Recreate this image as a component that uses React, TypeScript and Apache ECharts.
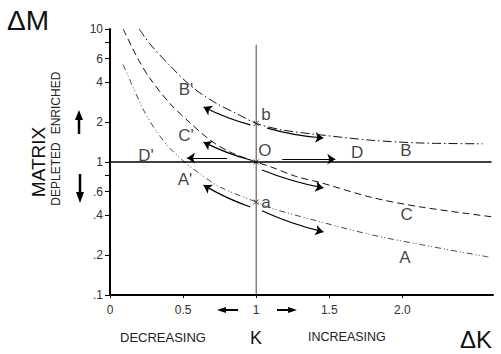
import React, { useEffect, useRef } from 'react';
import * as echarts from 'echarts';

const FONT = '"Liberation Sans", Arial, sans-serif';

// Axis ticks and their printed labels
const xTickValues = [0, 0.5, 1, 1.5, 2];
const xTickLabels = ['0', '0.5', '1', '1.5', '2.0'];
const yTickValues = [0.1, 0.2, 0.4, 0.6, 0.8, 1, 2, 4, 6, 8, 10];
const yLabelValues = [0.1, 0.2, 0.4, 0.6, 1, 2, 4, 6, 10];
const yTickLabels = ['.1', '.2', '.4', '.6', '1', '2', '4', '6', '10'];

// Curve B (dash-dot), through b
const curveBK = [0.2, 0.27, 0.41, 0.57, 0.73, 0.87, 1.0, 1.18, 1.44, 1.78, 2.12, 2.55];
const curveBM = [10, 7.8, 5.3, 3.6, 2.75, 2.3, 1.95, 1.74, 1.6, 1.46, 1.39, 1.37];

// Curve C (dashed), through O
const curveCK = [0.09, 0.19, 0.27, 0.41, 0.55, 0.685, 0.82, 1.0, 1.1, 1.27, 1.44, 1.78, 2.12, 2.67];
const curveCM = [10, 6.0, 4.3, 2.75, 1.96, 1.46, 1.19, 1.0, 0.92, 0.78, 0.7, 0.545, 0.46, 0.38];

// Curve A (dash-dot-dot), through a
const curveAK = [0.09, 0.23, 0.31, 0.4, 0.51, 0.6, 0.75, 1.0, 1.1, 1.44, 1.78, 2.12, 2.59];
const curveAM = [5.4, 2.45, 1.75, 1.3, 1.0, 0.84, 0.65, 0.5, 0.45, 0.355, 0.285, 0.24, 0.193];

// Vertical line K = 1 and horizontal line D (M = 1)
const refLineK = [1, 1];
const refLineM = [0.1, 7.6];
const unitLineK = [0, 2.61];
const unitLineM = [1, 1];

// Direction arrows beside each curve
const arrowFromK = [0.96, 1.075, 0.96, 1.04, 0.8, 1.178, 0.96, 1.04];
const arrowFromM = [1.9, 1.8, 1.035, 0.87, 1.07, 1.05, 0.459, 0.43];
const arrowToK = [0.64, 1.46, 0.64, 1.46, 0.527, 1.541, 0.64, 1.46];
const arrowToM = [2.59, 1.515, 1.41, 0.638, 1.07, 1.05, 0.67, 0.298];
const arrowBend = [0.05, -0.05, 0.05, -0.05, 0, 0, 0.05, -0.05];

// Crossing points b, O, a on K = 1
const pointK = [1, 1, 1];
const pointM = [1.95, 1.0, 0.5];

// Curve and point names
const labelNames = ["B'", "C'", "D'", "A'", 'b', 'O', 'a', 'D', 'B', 'C', 'A'];
const labelK = [0.52, 0.52, 0.246, 0.513, 1.067, 1.06, 1.067, 1.69, 2.025, 2.03, 2.018];
const labelM = [3.48, 1.57, 1.11, 0.745, 2.26, 1.21, 0.492, 1.17, 1.23, 0.406, 0.193];

const zip = (a: number[], b: number[]) => a.map((v, i) => [v, b[i]]);

function arrowSeries(bend: number) {
  const data = arrowFromK
    .map((_, i) => i)
    .filter((i) => arrowBend[i] === bend)
    .map((i) => ({
      coords: [
        [arrowFromK[i], arrowFromM[i]],
        [arrowToK[i], arrowToM[i]],
      ],
    }));
  return {
    type: 'lines',
    coordinateSystem: 'cartesian2d',
    symbol: ['none', 'arrow'],
    symbolSize: 8,
    lineStyle: { color: '#000', width: 1.2, curveness: bend, opacity: 1 },
    silent: true,
    data,
  };
}

function curveSeries(k: number[], m: number[], dash: number[], width: number, color: string) {
  return {
    type: 'line',
    data: zip(k, m),
    showSymbol: false,
    smooth: 0.3,
    clip: false,
    lineStyle: { color, width, type: dash },
    silent: true,
  };
}

export default function App() {
  const ref = useRef<HTMLDivElement>(null);

  useEffect(() => {
    if (!ref.current) return;
    const chart = echarts.init(ref.current, undefined, { renderer: 'svg' });
    const option = {
      animation: false,
      backgroundColor: '#fff',
      grid: { left: 110, top: 29, width: 383, height: 266 },
      xAxis: {
        type: 'value',
        min: 0,
        max: 2.62,
        splitLine: { show: false },
        axisLine: { show: true, lineStyle: { color: '#000', width: 2 } },
        axisTick: { show: true, customValues: xTickValues, length: 3, lineStyle: { color: '#000', width: 1 } },
        axisLabel: {
          customValues: xTickValues,
          formatter: (v: number) => xTickLabels[xTickValues.indexOf(v)] ?? '',
          color: '#333',
          fontFamily: FONT,
          fontSize: 12,
          margin: 9,
        },
      },
      yAxis: {
        type: 'log',
        logBase: 10,
        min: 0.1,
        max: 10,
        splitLine: { show: false },
        axisLine: { show: true, lineStyle: { color: '#000', width: 2 } },
        axisTick: { show: true, customValues: yTickValues, length: 5, lineStyle: { color: '#000', width: 1 } },
        axisLabel: {
          customValues: yLabelValues,
          formatter: (v: number) => {
            const i = yLabelValues.findIndex((t) => Math.abs(t - v) < 1e-9);
            return i >= 0 ? yTickLabels[i] : '';
          },
          color: '#333',
          fontFamily: FONT,
          fontSize: 12,
          margin: 7,
        },
      },
      series: [
        curveSeries(curveBK, curveBM, [9, 3, 1.5, 3], 1, '#111'),
        curveSeries(curveCK, curveCM, [7, 4], 1, '#111'),
        curveSeries(curveAK, curveAM, [6, 3, 1, 2, 1, 3], 0.9, '#333'),
        {
          type: 'line',
          data: zip(refLineK, refLineM),
          showSymbol: false,
          lineStyle: { color: '#444', width: 1 },
          silent: true,
        },
        {
          type: 'line',
          data: zip(unitLineK, unitLineM),
          showSymbol: false,
          lineStyle: { color: '#000', width: 1.6 },
          silent: true,
        },
        arrowSeries(0.05),
        arrowSeries(-0.05),
        arrowSeries(0),
        {
          type: 'scatter',
          data: zip(pointK, pointM),
          symbol: 'path://M0 0L10 10M10 0L0 10',
          symbolSize: 5,
          itemStyle: { color: 'transparent', borderColor: '#000', borderWidth: 1 },
          silent: true,
        },
        {
          type: 'scatter',
          data: labelNames.map((n, i) => ({ name: n, value: [labelK[i], labelM[i]] })),
          symbolSize: 1,
          itemStyle: { color: 'transparent' },
          label: {
            show: true,
            position: 'inside',
            formatter: (p: any) => p.name,
            color: '#111',
            fontFamily: FONT,
            fontSize: 17,
          },
          silent: true,
        },
      ],
      graphic: [
        { type: 'text', x: 7, y: 20, style: { text: 'ΔM', font: `28px ${FONT}`, fill: '#111', verticalAlign: 'middle' } },
        { type: 'text', x: 476, y: 339, style: { text: 'ΔK', font: `24px ${FONT}`, fill: '#111', align: 'center', verticalAlign: 'middle' } },
        {
          type: 'text', x: 38, y: 162, rotation: Math.PI / 2,
          style: { text: 'MATRIX', font: `19px ${FONT}`, fill: '#111', align: 'center', verticalAlign: 'middle' },
        },
        {
          type: 'text', x: 56, y: 103, rotation: Math.PI / 2,
          style: { text: 'ENRICHED', font: `12px ${FONT}`, fill: '#222', align: 'center', verticalAlign: 'middle' },
        },
        {
          type: 'text', x: 56, y: 174, rotation: Math.PI / 2,
          style: { text: 'DEPLETED', font: `12px ${FONT}`, fill: '#222', align: 'center', verticalAlign: 'middle' },
        },
        { type: 'text', x: 120, y: 337, style: { text: 'DECREASING', font: `13px ${FONT}`, fill: '#222', verticalAlign: 'middle' } },
        { type: 'text', x: 256, y: 338, style: { text: 'K', font: `18px ${FONT}`, fill: '#111', align: 'center', verticalAlign: 'middle' } },
        { type: 'text', x: 308, y: 337, style: { text: 'INCREASING', font: `12.5px ${FONT}`, fill: '#222', verticalAlign: 'middle' } },
        // enrichment / depletion arrows
        { type: 'line', shape: { x1: 79, y1: 134, x2: 79, y2: 118 }, style: { stroke: '#000', lineWidth: 2.5 } },
        { type: 'polygon', shape: { points: [[75, 120], [83, 120], [79, 110]] }, style: { fill: '#000' } },
        { type: 'line', shape: { x1: 80, y1: 174, x2: 80, y2: 194 }, style: { stroke: '#000', lineWidth: 2.5 } },
        { type: 'polygon', shape: { points: [[76, 192], [84, 192], [80, 203]] }, style: { fill: '#000' } },
        // decreasing / increasing K arrows
        { type: 'line', shape: { x1: 224, y1: 310, x2: 238, y2: 310 }, style: { stroke: '#000', lineWidth: 2 } },
        { type: 'polygon', shape: { points: [[226, 307], [226, 313], [217, 310]] }, style: { fill: '#000' } },
        { type: 'line', shape: { x1: 277, y1: 310, x2: 290, y2: 310 }, style: { stroke: '#000', lineWidth: 2 } },
        { type: 'polygon', shape: { points: [[288, 307], [288, 313], [297, 310]] }, style: { fill: '#000' } },
      ],
    };
    chart.setOption(option as any);
    return () => chart.dispose();
  }, []);

  return <div ref={ref} style={{ position: 'fixed', left: 0, top: 0, width: 501, height: 354, background: '#fff' }} />;
}
